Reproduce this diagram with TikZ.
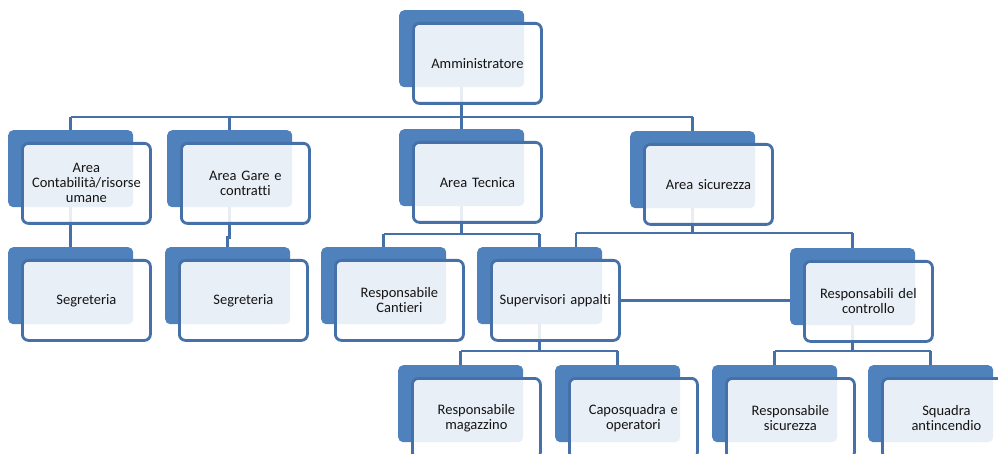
\documentclass[tikz,border=0pt]{standalone}
\usepackage{fontspec}
\setmainfont[Ligatures=NoCommon]{Carlito}
\usetikzlibrary{calc}
\definecolor{sablue}{RGB}{79,129,189}
\definecolor{lineblue}{RGB}{70,112,168}
\definecolor{txtc}{RGB}{20,20,20}
\pgfdeclarelayer{bg}
\pgfsetlayers{bg,main}
\tikzset{
  backbox/.style={fill=sablue, draw=none, rounded corners=5pt, minimum width=125pt, minimum height=77pt, inner sep=0pt, anchor=north west},
  frontbox/.style={fill=white, fill opacity=0.88, text opacity=1, draw=lineblue, line width=2.8pt, rounded corners=6pt, minimum width=128pt, minimum height=80pt, inner sep=2pt, anchor=north west, align=center, text width=118pt, text=txtc, font=\fontsize{14.5pt}{15pt}\selectfont},
  conn/.style={draw=lineblue, line width=2.8pt}
}
\newcommand\orgbox[4]{%
  \node[backbox] (#1b) at (#2,#3) {};
  \node[frontbox] (#1) at ($(#1b.north west)+(13,12)$) {#4};}
\begin{document}
\begin{tikzpicture}[x=1pt,y=-1pt]
\useasboundingbox (0,0) rectangle (998,454);
\clip (0,0) rectangle (998,454);
\orgbox{adm}{399}{10}{Amministratore}
\orgbox{cont}{8}{130}{Area\\Contabilità/risorse\\umane}
\orgbox{gare}{167}{130}{Area Gare e\\contratti}
\orgbox{tec}{399}{129}{Area Tecnica}
\orgbox{sic}{630}{131}{Area sicurezza}
\orgbox{segA}{8}{247}{Segreteria}
\orgbox{segB}{165}{247}{Segreteria}
\orgbox{cant}{321}{247}{Responsabile\\Cantieri}
\orgbox{sup}{477}{247}{Supervisori appalti}
\orgbox{ctrl}{790}{248}{Responsabili del\\controllo}
\orgbox{mag}{398}{365}{Responsabile\\magazzino}
\orgbox{capo}{555}{365}{Caposquadra e\\operatori}
\orgbox{rsic}{712}{365}{Responsabile\\sicurezza}
\orgbox{squa}{868}{365}{Squadra\\antincendio}
\coordinate (bus1) at (0,117);
\coordinate (bus2) at (0,234);
\coordinate (bus3) at (0,233);
\coordinate (bus4) at (0,351);
\coordinate (supin) at ($(supb.north west)+(99,0)$);
\begin{pgfonlayer}{bg}
  \draw[conn] (admb.south) -- (admb.south |- bus1);
  \draw[conn] (contb.north |- bus1) -- (sicb.north |- bus1);
  \draw[conn] (contb.north |- bus1) -- (contb.north);
  \draw[conn] (gareb.north |- bus1) -- (gareb.north);
  \draw[conn] (tecb.north |- bus1) -- (tecb.north);
  \draw[conn] (sicb.north |- bus1) -- (sicb.north);
  \draw[conn] (contb.south) -- (segAb.north);
  \draw[conn] (gareb.south) -- ($(gareb.south)+(0,30)$) -| (segBb.north);
  \draw[conn] (tecb.south) -- (tecb.south |- bus2);
  \draw[conn] (cantb.north |- bus2) -- (supb.north |- bus2);
  \draw[conn] (cantb.north |- bus2) -- (cantb.north);
  \draw[conn] (supb.north |- bus2) -- (supb.north);
  \draw[conn] (sicb.south) -- (sicb.south |- bus3);
  \draw[conn] (supin |- bus3) -- (ctrlb.north |- bus3);
  \draw[conn] (supin |- bus3) -- (supin);
  \draw[conn] (ctrlb.north |- bus3) -- (ctrlb.north);
  \draw[conn] (sup.east) -- (sup.east -| ctrlb.west);
  \draw[conn] (supb.south) -- (supb.south |- bus4);
  \draw[conn] (magb.north |- bus4) -- (capob.north |- bus4);
  \draw[conn] (magb.north |- bus4) -- (magb.north);
  \draw[conn] (capob.north |- bus4) -- (capob.north);
  \draw[conn] (ctrlb.south) -- (ctrlb.south |- bus4);
  \draw[conn] (rsicb.north |- bus4) -- (squab.north |- bus4);
  \draw[conn] (rsicb.north |- bus4) -- (rsicb.north);
  \draw[conn] (squab.north |- bus4) -- (squab.north);
\end{pgfonlayer}
\end{tikzpicture}
\end{document}
